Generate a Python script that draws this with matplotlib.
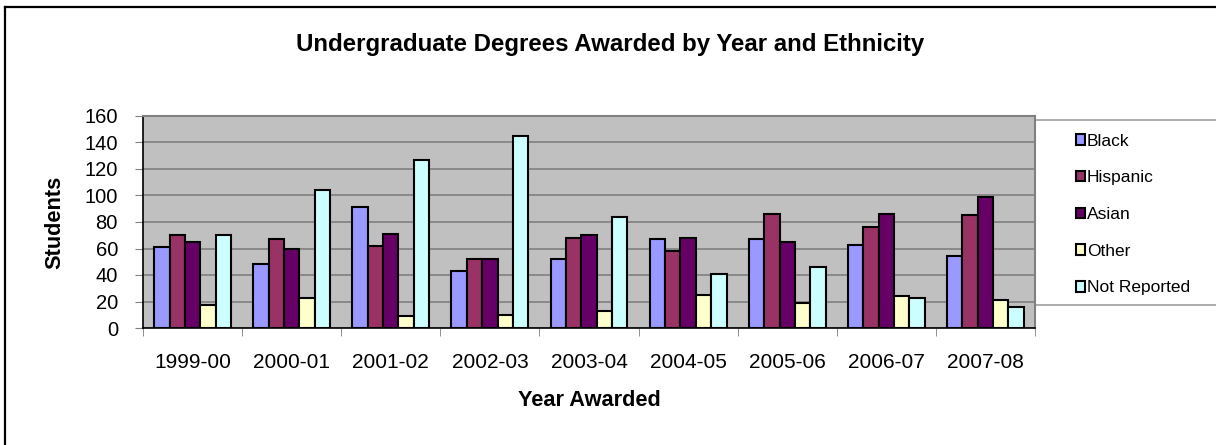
import numpy as np
import matplotlib
matplotlib.use("Agg")
import matplotlib.pyplot as plt
from matplotlib.patches import Rectangle
from matplotlib.lines import Line2D

plt.rcParams['font.family'] = ['Liberation Sans', 'DejaVu Sans']

# data
years = ['1999-00', '2000-01', '2001-02', '2002-03', '2003-04',
         '2004-05', '2005-06', '2006-07', '2007-08']
black = [61, 48, 91, 43, 52, 67, 67, 63, 54]
hispanic = [70, 67, 62, 52, 68, 58, 86, 76, 85]
asian = [65, 60, 71, 52, 70, 68, 65, 86, 99]
other = [17, 23, 9, 10, 13, 25, 19, 24, 21]
not_reported = [70, 104, 127, 145, 84, 41, 46, 23, 16]

series_names = ['Black', 'Hispanic', 'Asian', 'Other', 'Not Reported']
series_colors = ['#9999FF', '#993366', '#660066', '#FFFFCC', '#CCFFFF']

W, H = 1216, 445
fig = plt.figure(figsize=(W / 100, H / 100), dpi=100)
fig.patch.set_facecolor('white')

# outer chart frame (only left and top edges are visible)
fig.add_artist(Line2D([5 / W, 5 / W], [-0.1, 1 - 7 / H], transform=fig.transFigure,
                      color='black', lw=1.6))
fig.add_artist(Line2D([5 / W, 1.1], [1 - 7 / H, 1 - 7 / H], transform=fig.transFigure,
                      color='black', lw=1.6))

ax = fig.add_axes([143 / W, 1 - 328 / H, (1035 - 143) / W, (328 - 116) / H])
ax.set_facecolor('#C0C0C0')

x = np.arange(len(years))
bw = 0.155
data = [black, hispanic, asian, other, not_reported]
handles = []
for i, (vals, name, col) in enumerate(zip(data, series_names, series_colors)):
    b = ax.bar(x + (i - 2) * bw, vals, width=bw, color=col, edgecolor='black',
               linewidth=1.5, label=name, zorder=3)
    handles.append(b)

ax.set_xlim(-0.5, len(years) - 0.5)
ax.set_ylim(0, 160)
ax.set_yticks(np.arange(0, 161, 20))
ax.yaxis.grid(True, color='#808080', lw=1.2, zorder=1)
ax.set_axisbelow(True)

ax.set_xticks(x)
ax.set_xticklabels(years, fontsize=15)
ax.set_xticks(np.arange(-0.5, len(years), 1), minor=True)
ax.tick_params(axis='x', which='major', length=0, pad=18)
ax.tick_params(axis='x', which='minor', length=6, color='#808080', direction='out')
ax.tick_params(axis='y', labelsize=14.5, length=6, color='#808080', direction='out', pad=12)

for s in ['top', 'right']:
    ax.spines[s].set_color('#808080')
    ax.spines[s].set_linewidth(1.5)
ax.spines['left'].set_color('black')
ax.spines['left'].set_linewidth(1.2)
ax.spines['bottom'].set_color('black')
ax.spines['bottom'].set_linewidth(1.2)

ax.set_ylabel('Students', fontsize=15.7, fontweight='bold', labelpad=14)
ax.set_xlabel('Year Awarded', fontsize=15.7, fontweight='bold', labelpad=13)

fig.text(610 / W, 1 - 45 / H, 'Undergraduate Degrees Awarded by Year and Ethnicity',
         ha='center', va='center', fontsize=17.3, fontweight='bold')

# legend box
fig.add_artist(Rectangle((1035 / W, 1 - 305 / H), 0.2, (305 - 120) / H,
                         transform=fig.transFigure, facecolor='white',
                         edgecolor='#A0A0A0', lw=1.2, zorder=0))
leg = fig.legend(handles=handles, labels=series_names, loc='upper left',
                 bbox_to_anchor=(1067 / W, 1 - 125 / H), frameon=False,
                 fontsize=12.5, handlelength=0.55, handleheight=0.55,
                 handletextpad=0.1, labelspacing=1.25, borderpad=0)
for h in leg.legend_handles:
    h.set_linewidth(1.5)

fig.savefig('out.png', dpi=100)
